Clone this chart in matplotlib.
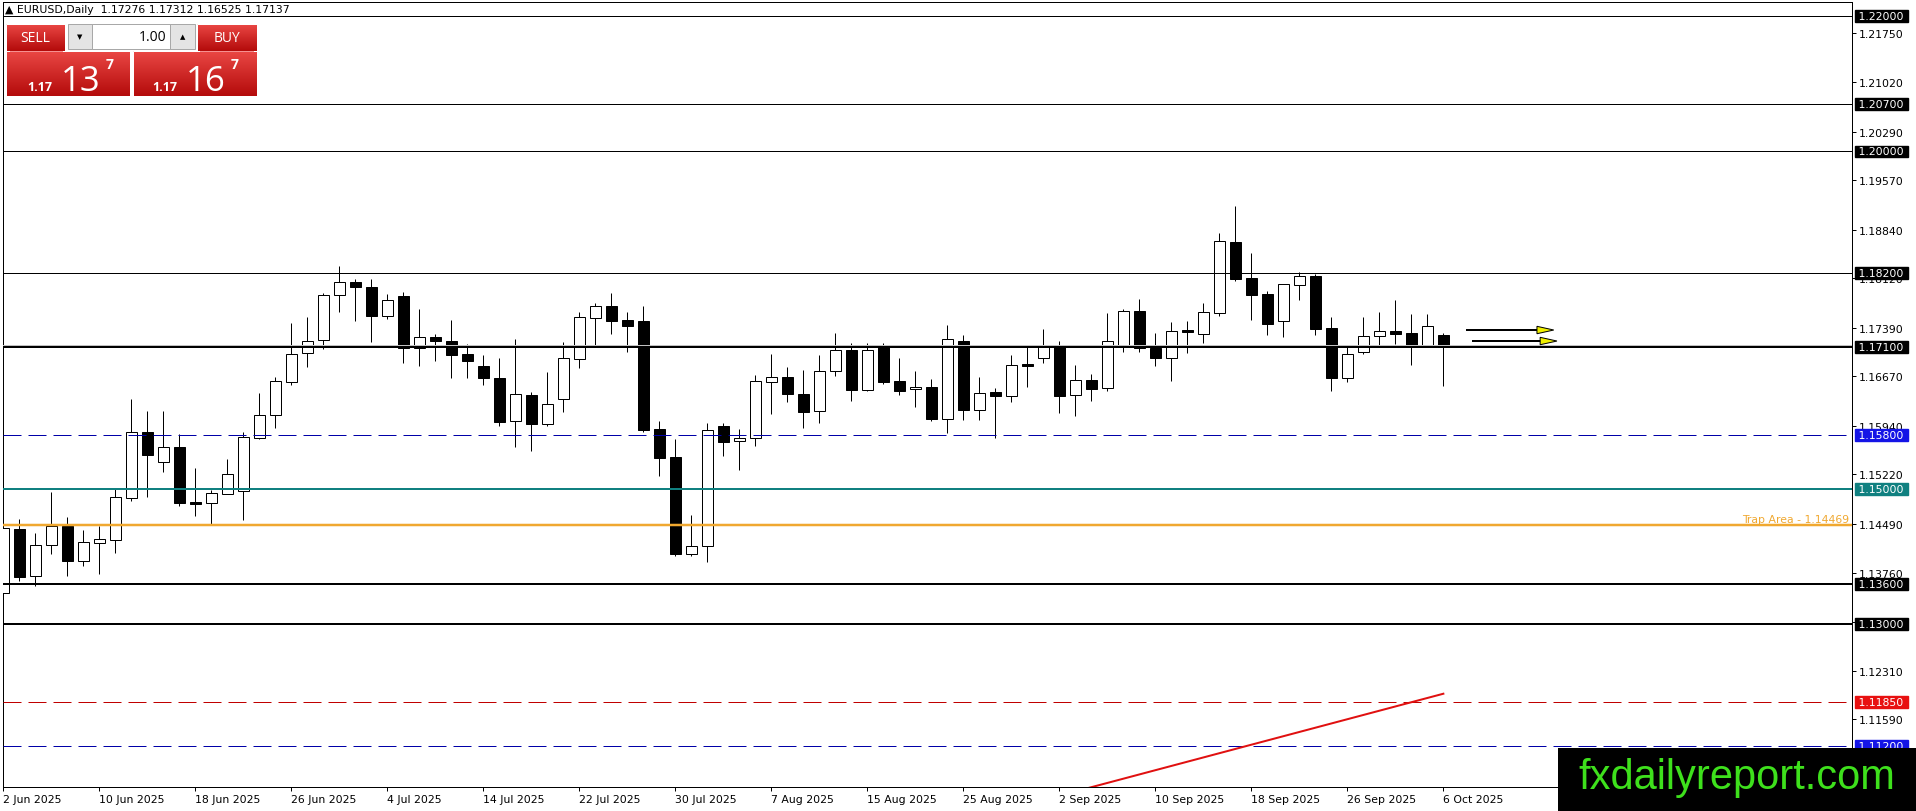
import numpy as np
import matplotlib
matplotlib.use('Agg')
import matplotlib.pyplot as plt
import matplotlib.transforms as mtransforms
from matplotlib.patches import Rectangle, Polygon
from matplotlib.colors import LinearSegmentedColormap

# EURUSD daily candles, 2 Jun 2025 .. 6 Oct 2025
opens = [1.13462, 1.14409, 1.13718, 1.14167, 1.14448, 1.13940, 1.14207, 1.14251, 1.14873, 1.15840,
         1.15396, 1.15618, 1.14804, 1.14799, 1.14932, 1.14967, 1.15761, 1.16092, 1.16590, 1.17010,
         1.17202, 1.17869, 1.18061, 1.17987, 1.17568, 1.17859, 1.17084, 1.17247, 1.17187, 1.16995,
         1.16817, 1.16645, 1.16003, 1.16388, 1.15959, 1.16329, 1.16921, 1.17528, 1.17706, 1.17499,
         1.17489, 1.15885, 1.15470, 1.14044, 1.14152, 1.15929, 1.15707, 1.15751, 1.16580, 1.16654,
         1.16403, 1.16151, 1.16743, 1.17059, 1.16472, 1.17133, 1.16595, 1.16477, 1.16511, 1.16043,
         1.17192, 1.16176, 1.16433, 1.16373, 1.16847, 1.16936, 1.17104, 1.16398, 1.16610, 1.16492,
         1.17114, 1.17632, 1.17089, 1.16946, 1.17350, 1.17301, 1.17612, 1.18658, 1.18125, 1.17889,
         1.17494, 1.18017, 1.18155, 1.17385, 1.16650, 1.17035, 1.17262, 1.17336, 1.17311, 1.17138,
         1.17276]
highs = [1.14483, 1.14557, 1.14350, 1.14952, 1.14582, 1.14394, 1.14458, 1.15001, 1.16334, 1.16156,
         1.16156, 1.15811, 1.15312, 1.14991, 1.15445, 1.15840, 1.16422, 1.16664, 1.17459, 1.17543,
         1.17903, 1.18308, 1.18111, 1.18111, 1.17888, 1.17913, 1.17666, 1.17296, 1.17503, 1.17148,
         1.16980, 1.16941, 1.17222, 1.16433, 1.16729, 1.17173, 1.17627, 1.17755, 1.17903, 1.17627,
         1.17711, 1.16003, 1.15741, 1.14617, 1.15979, 1.15979, 1.15890, 1.16689, 1.17000, 1.16808,
         1.16763, 1.16985, 1.17311, 1.17163, 1.17163, 1.17163, 1.16941, 1.16748, 1.16630, 1.17429,
         1.17281, 1.16664, 1.16502, 1.16985, 1.17099, 1.17370, 1.17192, 1.16837, 1.16704, 1.17607,
         1.17666, 1.17814, 1.17311, 1.17469, 1.17484, 1.17755, 1.18792, 1.19196, 1.18495, 1.17938,
         1.18031, 1.18209, 1.18185, 1.17548, 1.17099, 1.17548, 1.17622, 1.17800, 1.17592, 1.17592,
         1.17312]
lows = [1.13397, 1.13644, 1.13570, 1.14044, 1.13718, 1.13866, 1.13738, 1.14054, 1.14829, 1.14888,
        1.15248, 1.14755, 1.14607, 1.14483, 1.14922, 1.14547, 1.15742, 1.15909, 1.16541, 1.16812,
        1.17074, 1.17617, 1.17484, 1.17183, 1.17518, 1.16867, 1.16827, 1.16901, 1.16640, 1.16650,
        1.16546, 1.15939, 1.15628, 1.15569, 1.15939, 1.16146, 1.16798, 1.17113, 1.17301, 1.17034,
        1.15850, 1.15199, 1.14014, 1.14004, 1.13925, 1.15495, 1.15287, 1.15643, 1.16117, 1.16294,
        1.15909, 1.15983, 1.16679, 1.16309, 1.16457, 1.16556, 1.16398, 1.16220, 1.16013, 1.15835,
        1.16028, 1.16028, 1.15751, 1.16294, 1.16516, 1.16872, 1.16131, 1.16087, 1.16309, 1.16457,
        1.17035, 1.17035, 1.16827, 1.16605, 1.17015, 1.17163, 1.17568, 1.18081, 1.17503, 1.17281,
        1.17257, 1.17804, 1.17286, 1.16457, 1.16590, 1.17005, 1.17123, 1.17148, 1.16842, 1.17123,
        1.16525]
closes = [1.14419, 1.13703, 1.14172, 1.14448, 1.13940, 1.14211, 1.14256, 1.14878, 1.15840, 1.15510,
          1.15618, 1.14799, 1.14784, 1.14937, 1.15218, 1.15766, 1.16097, 1.16595, 1.16995, 1.17192,
          1.17874, 1.18061, 1.17987, 1.17568, 1.17795, 1.17084, 1.17247, 1.17197, 1.16990, 1.16901,
          1.16640, 1.15998, 1.16403, 1.15959, 1.16255, 1.16936, 1.17543, 1.17706, 1.17494, 1.17420,
          1.15880, 1.15465, 1.14044, 1.14152, 1.15870, 1.15702, 1.15752, 1.16595, 1.16654, 1.16413,
          1.16146, 1.16743, 1.17059, 1.16472, 1.17059, 1.16590, 1.16457, 1.16511, 1.16043, 1.17217,
          1.16176, 1.16418, 1.16383, 1.16832, 1.16827, 1.17104, 1.16383, 1.16610, 1.16487, 1.17187,
          1.17632, 1.17084, 1.16946, 1.17336, 1.17331, 1.17617, 1.18668, 1.18110, 1.17874, 1.17444,
          1.18031, 1.18150, 1.17370, 1.16650, 1.17000, 1.17267, 1.17336, 1.17301, 1.17138, 1.17415,
          1.17137]

date_labels = ['2 Jun 2025', '10 Jun 2025', '18 Jun 2025', '26 Jun 2025', '4 Jul 2025',
               '14 Jul 2025', '22 Jul 2025', '30 Jul 2025', '7 Aug 2025', '15 Aug 2025',
               '25 Aug 2025', '2 Sep 2025', '10 Sep 2025', '18 Sep 2025', '26 Sep 2025',
               '6 Oct 2025']
price_ticks = [1.21750, 1.21020, 1.20290, 1.19570, 1.18840, 1.18120, 1.17390, 1.16670,
               1.15940, 1.15220, 1.14490, 1.13760, 1.13030, 1.12310, 1.11590]

# horizontal levels drawn on the chart
black_levels = [1.22000, 1.20700, 1.20000, 1.18200]
thick_levels = [1.17100, 1.13600, 1.13000]
blue_levels = [1.15800, 1.11200]
teal_level = 1.15000
red_level = 1.11850
trap_level = 1.14469
bid = 1.17137

# trend line and the two arrows (bar index, price)
trend_x = [60, 90]
trend_y = [1.10083, 1.11970]
arrow_x0 = [91.4, 91.8]
arrow_x1 = [96.9, 97.1]
arrow_y = [1.17355, 1.17192]

W, H = 1916, 812
fig = plt.figure(figsize=(W / 100, H / 100), dpi=100)
ax = fig.add_axes([2.7 / W, (H - 788) / H, (1852 - 2.7) / W, (788 - 2.7) / H])
ax.set_xlim(-0.04, 115.54)
ax.set_ylim(1.10589, 1.22216)

px = 0.72  # one pixel in points
fs = 7.8

# candles
x = np.arange(len(opens))
o = np.array(opens); c = np.array(closes)
up = c >= o
ax.vlines(x, lows, highs, color='black', lw=px, zorder=3)
bot = np.minimum(o, c)
hgt = np.maximum(np.abs(c - o), 0.00003)
ax.bar(x, hgt, bottom=bot, width=0.66, color=np.where(up, 'white', 'black'),
       edgecolor='black', linewidth=px, zorder=4)

# levels
for lv in black_levels:
    ax.axhline(lv, color='black', lw=px, zorder=5)
ax.axhline(bid, color='#c0c0c0', lw=px, zorder=4.5)
for lv in thick_levels:
    ax.axhline(lv, color='black', lw=2 * px, zorder=5)
for lv in blue_levels:
    ax.axhline(lv, color='#0000a8', lw=px, ls=(0, (18, 7)), zorder=5)
ax.axhline(red_level, color='#c00000', lw=px, ls=(0, (18, 7)), zorder=5)
ax.axhline(teal_level, color='#108080', lw=2 * px, zorder=5)
ax.axhline(trap_level, color='#f0a830', lw=2.5 * px, zorder=5)

ax.plot(trend_x, trend_y, color='#e01010', lw=2 * px, zorder=6)

# arrows
for x0, x1, y in zip(arrow_x0, arrow_x1, arrow_y):
    ax.plot([x0, x1 - 1.0], [y, y], color='black', lw=2 * px, zorder=6, solid_capstyle='butt')
    ax.add_patch(Polygon([[x1 - 1.05, y + 0.00055], [x1 - 1.05, y - 0.00055], [x1, y]],
                         closed=True, facecolor='#f0f000', edgecolor='black', lw=px, zorder=7))

# axes look
for s in ax.spines.values():
    s.set_linewidth(px)
    s.set_color('black')

ax.set_xticks(range(0, 91, 6))
ax.set_xticklabels(date_labels, fontsize=fs, ha='left')
ax.tick_params(axis='x', direction='out', length=2.9, width=px, pad=2)
ax.yaxis.tick_right()
ax.set_yticks(price_ticks)
ax.set_yticklabels(['%.5f' % v for v in price_ticks], fontsize=fs)
ax.tick_params(axis='y', direction='out', length=2.9, width=px, pad=2)

# price boxes on the right axis
tr = ax.get_yaxis_transform() + mtransforms.ScaledTranslation(3.5 / 100, 0, fig.dpi_scale_trans)
boxes = [(lv, 'black') for lv in black_levels + thick_levels]
boxes += [(lv, '#1414e6') for lv in blue_levels]
boxes += [(teal_level, '#108080'), (red_level, '#e81010')]
for lv, col in boxes:
    ax.text(1.0, lv, ' %.5f ' % lv, transform=tr, fontsize=fs, color='white', va='center',
            ha='left', zorder=8, clip_on=False,
            bbox=dict(boxstyle='square,pad=0.08', facecolor=col, edgecolor=col))

tr2 = ax.get_yaxis_transform() + mtransforms.ScaledTranslation(-3 / 100, 2.5 / 100, fig.dpi_scale_trans)
ax.text(1.0, trap_level, 'Trap Area - %.5f' % trap_level, transform=tr2, fontsize=fs,
        color='#f0a830', ha='right', va='baseline', zorder=8)

# overlay in pixel coords: title, trade panel, watermark
ov = fig.add_axes([0, 0, 1, 1], zorder=10)
ov.axis('off')
ov.text(5, 10, '\u25b2 EURUSD,Daily  1.17276 1.17312 1.16525 1.17137', fontsize=fs,
        va='center', ha='left')

grad = np.linspace(0, 1, 64)[:, None]
reds = LinearSegmentedColormap.from_list('reds', ['#ea4744', '#b40b0b'])
for (x0, x1, y0, y1) in [(6, 65, 25, 52), (197, 257, 25, 52), (6, 130, 52, 97), (133, 257, 52, 97)]:
    ov.imshow(grad, extent=[x0, x1, y1, y0], cmap=reds, aspect='auto', zorder=1)
    ov.add_patch(Rectangle((x0, y0), x1 - x0, y1 - y0, fill=False, edgecolor='white', lw=px, zorder=2))
ov.plot([10, 62], [51.5, 51.5], color='#f59090', lw=px, zorder=3)
ov.plot([200, 253], [51.5, 51.5], color='#f59090', lw=px, zorder=3)
ov.text(35.5, 38.5, 'SELL', fontsize=10, color='white', ha='center', va='center', family='Open Sans', zorder=3)
ov.text(227, 38.5, 'BUY', fontsize=10, color='white', ha='center', va='center', family='Open Sans', zorder=3)

ov.add_patch(Rectangle((68, 25), 24, 25, facecolor='#e4e4e4', edgecolor='#a8a8a8', lw=px, zorder=2))
ov.add_patch(Rectangle((92, 25), 78, 25, facecolor='white', edgecolor='#a8a8a8', lw=px, zorder=2))
ov.add_patch(Rectangle((170, 25), 25, 25, facecolor='#e4e4e4', edgecolor='#a8a8a8', lw=px, zorder=2))
ov.text(80, 37.5, '\u25bc', fontsize=5, ha='center', va='center', zorder=3)
ov.text(182.5, 37.5, '\u25b2', fontsize=5, ha='center', va='center', zorder=3)
ov.text(166, 37.5, '1.00', fontsize=10, ha='right', va='center', family='Open Sans', zorder=3)

for x0, small, big, sup in [(27, '1.17', '13', '7'), (152, '1.17', '16', '7')]:
    ov.text(x0, 91, small, fontsize=9, color='white', weight='bold', ha='left', va='baseline',
            family='Open Sans', zorder=3)
    ov.text(x0 + 34, 91, big, fontsize=25, color='white', ha='left', va='baseline',
            family='Open Sans', zorder=3)
    ov.text(x0 + 79, 69, sup, fontsize=10, color='white', weight='bold', ha='left', va='baseline',
            family='Open Sans', zorder=3)

ov.add_patch(Rectangle((1558, 749), W - 1558, H - 749, facecolor='black', edgecolor='none', zorder=4))
ov.text(1737, 789, 'fxdailyreport.com', fontsize=30, color='#3ee01c', ha='center',
        va='baseline', family='Liberation Sans', zorder=5)

ov.set_xlim(0, W)
ov.set_ylim(H, 0)

fig.savefig('out.png', dpi=100)
